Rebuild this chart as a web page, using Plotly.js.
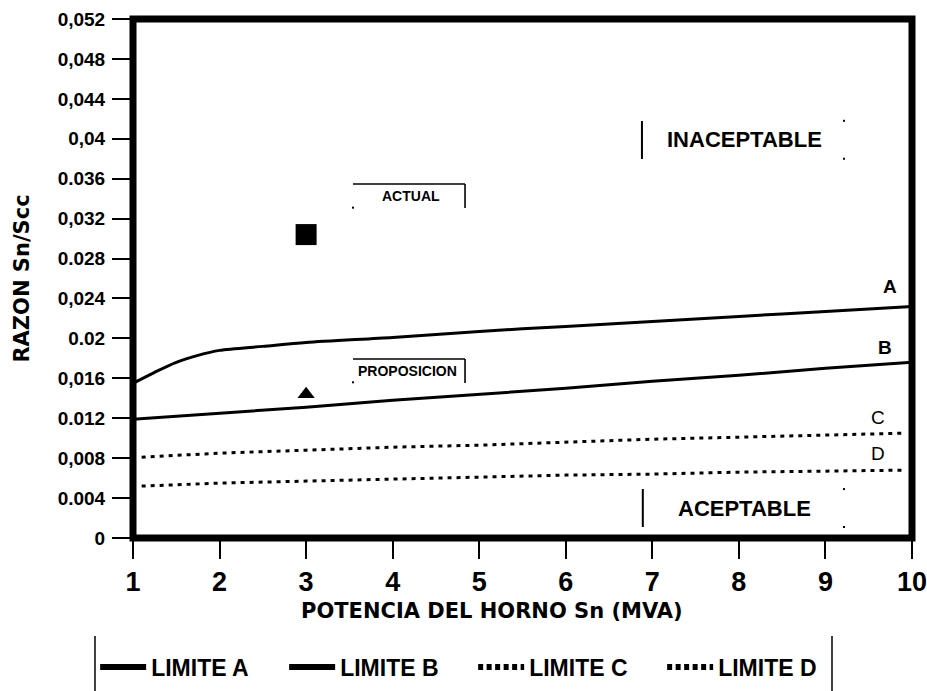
<!DOCTYPE html>
<html>
<head>
<meta charset="utf-8">
<script src="https://cdn.plot.ly/plotly-3.0.1.min.js"></script>
<style>html,body{margin:0;padding:0;background:#fff;}#chart{width:927px;height:691px;}</style>
</head>
<body>
<div id="chart"></div>
<script>
// ---- data ----
const xA = [1, 1.25, 1.5, 1.75, 2, 2.5, 3, 4, 5, 6, 7, 8, 9, 10];
const yA = [0.0155, 0.0166, 0.0176, 0.0183, 0.0188, 0.0192, 0.0196, 0.0201, 0.0207, 0.0212, 0.0217, 0.0222, 0.0227, 0.0232];
const xB = [1, 2, 3, 4, 5, 6, 7, 8, 9, 10];
const yB = [0.0119, 0.0125, 0.0131, 0.0138, 0.0144, 0.0150, 0.0157, 0.0163, 0.0170, 0.0176];
const xC = [1.1, 2, 3, 4, 5, 6, 7, 8, 9, 9.9];
const yC = [0.0081, 0.0085, 0.0088, 0.0091, 0.0093, 0.0096, 0.0099, 0.0101, 0.0103, 0.0105];
const xD = [1.1, 2, 3, 4, 5, 6, 7, 8, 9, 9.9];
const yD = [0.0052, 0.0055, 0.0057, 0.0059, 0.0061, 0.0063, 0.0064, 0.0066, 0.0067, 0.0068];
const actualX = [3];
const actualY = [0.0304];
const propX = [3];
const propY = [0.0144];
const seriesNames = ['LIMITE A', 'LIMITE B', 'LIMITE C', 'LIMITE D'];
const xTickVals = [1, 2, 3, 4, 5, 6, 7, 8, 9, 10];
const xTickText = ['1', '2', '3', '4', '5', '6', '7', '8', '9', '10'];
const yTickVals = [0, 0.004, 0.008, 0.012, 0.016, 0.02, 0.024, 0.028, 0.032, 0.036, 0.04, 0.044, 0.048, 0.052];
const yTickText = ['0', '0.004', '0,008', '0.012', '0,016', '0.02', '0,024', '0.028', '0,032', '0.036', '0,04', '0,044', '0,048', '0,052'];
const xTitle = 'POTENCIA DEL HORNO Sn (MVA)';
const yTitle = 'RAZON Sn/Scc';

const LIB = 'Liberation Sans, Arial, sans-serif';
const DJV = 'DejaVu Sans, Verdana, sans-serif';
const K = '#000';

const solid = {color: K, width: 3};
const dotted = {color: K, width: 3, dash: '4px,5px'};

const traces = [
  {x: xA, y: yA, mode: 'lines', line: Object.assign({shape: 'spline', smoothing: 0.8}, solid), name: seriesNames[0], showlegend: false},
  {x: xB, y: yB, mode: 'lines', line: solid, name: seriesNames[1], showlegend: false},
  {x: xC, y: yC, mode: 'lines', line: dotted, name: seriesNames[2], showlegend: false},
  {x: xD, y: yD, mode: 'lines', line: dotted, name: seriesNames[3], showlegend: false},
  {x: actualX, y: actualY, mode: 'markers', marker: {symbol: 'square', size: 21, color: K}, name: 'ACTUAL', showlegend: false},
  {x: propX, y: propY, mode: 'markers', marker: {symbol: 'triangle-up', size: 15, color: K}, name: 'PROPOSICION', showlegend: false},
  // legend entries
  {x: [null], y: [null], mode: 'lines', line: {color: K, width: 6}, name: seriesNames[0]},
  {x: [null], y: [null], mode: 'lines', line: {color: K, width: 6}, name: seriesNames[1]},
  {x: [null], y: [null], mode: 'lines', line: {color: K, width: 6, dash: '5px,3.5px'}, name: seriesNames[2]},
  {x: [null], y: [null], mode: 'lines', line: {color: K, width: 6, dash: '5px,3.5px'}, name: seriesNames[3]}
];

function pdot(x, y) {
  return {type: 'rect', xref: 'x', yref: 'y', xsizemode: 'pixel', ysizemode: 'pixel',
    xanchor: x, yanchor: y, x0: -1, x1: 1, y0: -1, y1: 1, fillcolor: K, line: {width: 0}};
}
const thin = {color: K, width: 1.6};

const shapes = [
  // ACTUAL bracket
  {type: 'line', xref: 'x', yref: 'y', x0: 3.542, x1: 4.836, y0: 0.03547, y1: 0.03547, line: thin},
  {type: 'line', xref: 'x', yref: 'y', x0: 4.836, x1: 4.836, y0: 0.03547, y1: 0.03306, line: thin},
  pdot(3.542, 0.0331),
  // PROPOSICION bracket
  {type: 'line', xref: 'x', yref: 'y', x0: 3.542, x1: 4.836, y0: 0.01793, y1: 0.01793, line: thin},
  {type: 'line', xref: 'x', yref: 'y', x0: 4.836, x1: 4.836, y0: 0.01793, y1: 0.01553, line: thin},
  pdot(3.542, 0.0156),
  // INACEPTABLE bracket
  {type: 'line', xref: 'x', yref: 'y', x0: 6.88, x1: 6.88, y0: 0.04178, y1: 0.03797, line: {color: K, width: 2}},
  pdot(9.214, 0.0418), pdot(9.214, 0.0380),
  // ACEPTABLE bracket
  {type: 'line', xref: 'x', yref: 'y', x0: 6.89, x1: 6.89, y0: 0.00491, y1: 0.0011, line: {color: K, width: 2}},
  pdot(9.214, 0.0049), pdot(9.214, 0.0011),
  // legend side bars
  {type: 'line', xref: 'paper', yref: 'paper', x0: -0.0488, x1: -0.0488, y0: -0.1888, y1: -0.2948, line: {color: K, width: 1.5}},
  {type: 'line', xref: 'paper', yref: 'paper', x0: 0.8973, x1: 0.8973, y0: -0.1888, y1: -0.2948, line: {color: K, width: 1.5}},
  // plot frame
  {type: 'rect', xref: 'paper', yref: 'paper', x0: 0, x1: 1, y0: 0, y1: 1, line: {color: K, width: 7}}
];

const annotations = [
  {x: 4.217, y: 0.03427, xref: 'x', yref: 'y', text: 'ACTUAL', showarrow: false, font: {family: LIB, size: 14, weight: 'bold', color: K}},
  {x: 4.177, y: 0.01673, xref: 'x', yref: 'y', text: 'PROPOSICION', showarrow: false, font: {family: LIB, size: 14, weight: 'bold', color: K}},
  {x: 8.06, y: 0.03988, xref: 'x', yref: 'y', text: 'INACEPTABLE', showarrow: false, font: {family: LIB, size: 22, weight: 'bold', color: K}},
  {x: 8.06, y: 0.00291, xref: 'x', yref: 'y', text: 'ACEPTABLE', showarrow: false, font: {family: LIB, size: 22, weight: 'bold', color: K}},
  {x: 9.745, y: 0.02515, xref: 'x', yref: 'y', text: 'A', showarrow: false, font: {family: LIB, size: 19, weight: 'bold', color: K}},
  {x: 9.688, y: 0.01904, xref: 'x', yref: 'y', text: 'B', showarrow: false, font: {family: LIB, size: 19, weight: 'bold', color: K}},
  {x: 9.607, y: 0.01212, xref: 'x', yref: 'y', text: 'C', showarrow: false, font: {family: LIB, size: 19, color: K}},
  {x: 9.607, y: 0.00842, xref: 'x', yref: 'y', text: 'D', showarrow: false, font: {family: LIB, size: 19, color: K}},
  // x-axis title (placed where the reference draws it, left of centre)
  {x: 0.461, y: -0.1406, xref: 'paper', yref: 'paper', text: xTitle, showarrow: false,
   xanchor: 'center', yanchor: 'middle', font: {family: DJV, size: 21, weight: 'bold', color: K}}
];

const layout = {
  width: 927, height: 691,
  margin: {l: 133, r: 15, t: 19, b: 153, autoexpand: false},
  paper_bgcolor: '#fff', plot_bgcolor: '#fff',
  showlegend: true,
  xaxis: {
    range: [1, 10], tickvals: xTickVals, ticktext: xTickText,
    ticks: 'outside', ticklen: 20, tickwidth: 2, tickcolor: K,
    showgrid: false, zeroline: false, showline: false,
    ticklabeloverflow: 'allow',
    tickfont: {family: LIB, size: 27, weight: 'bold', color: K}
  },
  yaxis: {
    range: [0, 0.052], tickvals: yTickVals, ticktext: yTickText,
    ticks: 'outside', ticklen: 20, tickwidth: 2, tickcolor: K,
    showgrid: false, zeroline: false, showline: false,
    ticklabeloverflow: 'allow',
    tickfont: {family: LIB, size: 19, weight: 'bold', color: K},
    ticklabelstandoff: 3,
    title: {text: yTitle, font: {family: DJV, size: 21, weight: 'bold', color: K}, standoff: 22}
  },
  legend: {
    orientation: 'h', x: -0.0486, xanchor: 'left', y: -0.2486, yanchor: 'middle',
    font: {family: LIB, size: 23, weight: 'bold', color: K},
    itemwidth: 46, entrywidth: 128, entrywidthmode: 'pixels',
    bgcolor: 'rgba(0,0,0,0)', borderwidth: 0, traceorder: 'normal'
  },
  shapes: shapes,
  annotations: annotations
};

Plotly.newPlot('chart', traces, layout, {staticPlot: true, displayModeBar: false});
</script>
</body>
</html>
